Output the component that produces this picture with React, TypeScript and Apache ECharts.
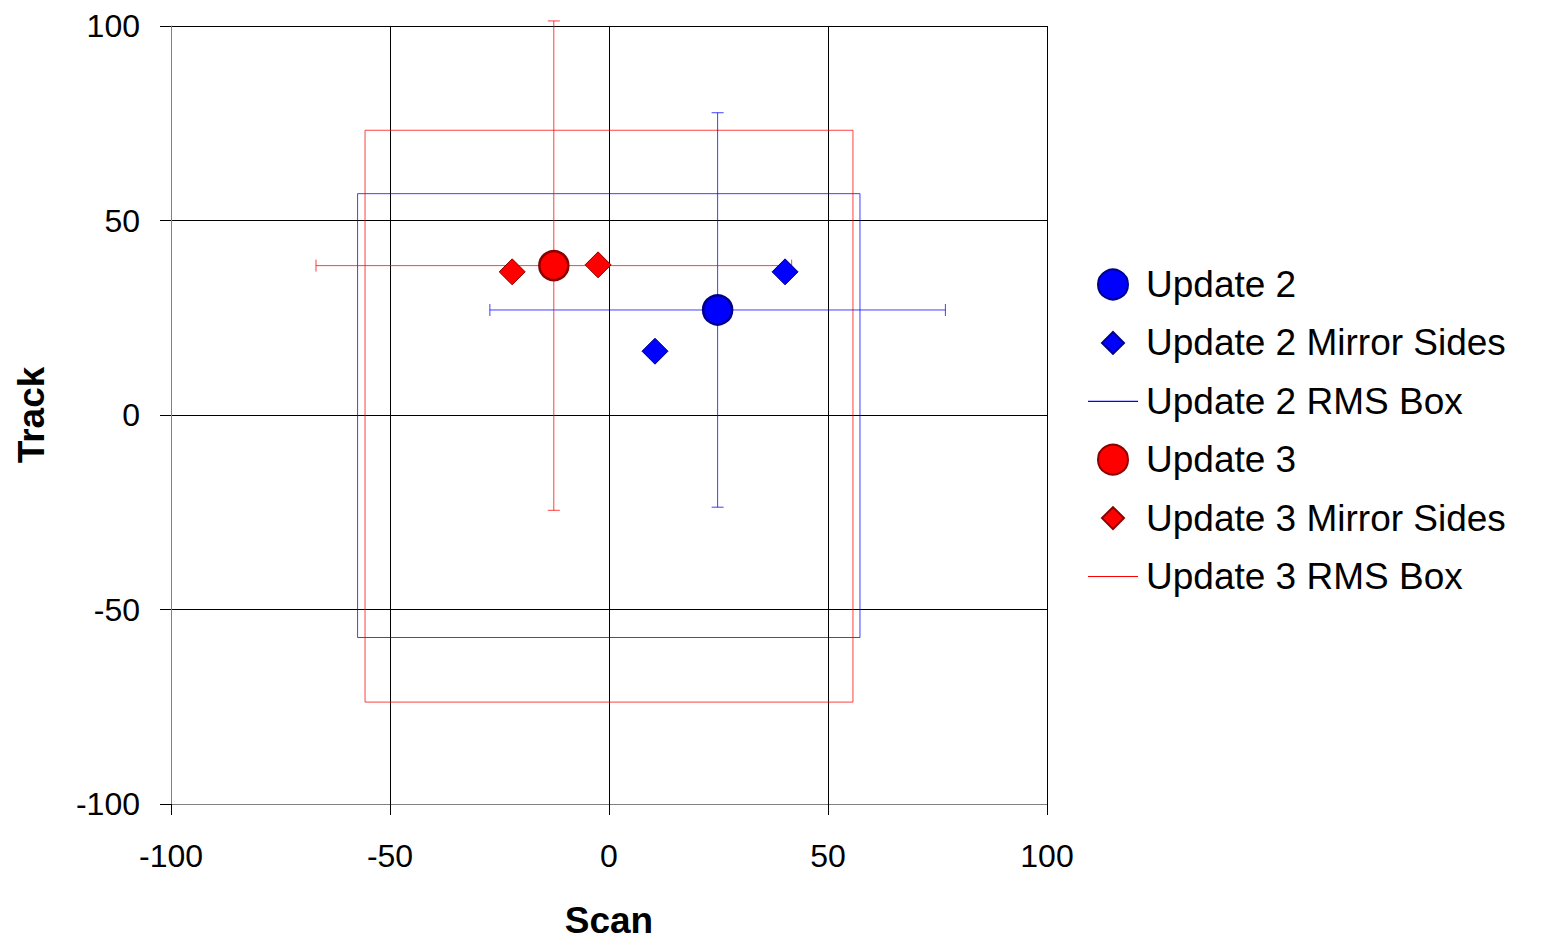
import React, { useEffect, useRef } from "react";
import * as echarts from "echarts";

// ---- Data ----
const axisTicks = [-100, -50, 0, 50, 100];
const update2Center = [[24.8, 27.0]];
const update2Err = [52.0, 50.7]; // [± scan, ± track]
const update2Mirror = [[10.5, 16.4], [40.2, 36.8]];
const update2Box = [-57.4, 57.3, -57.2, 56.9]; // xMin, xMax, yMin, yMax
const update3Center = [[-12.6, 38.4]];
const update3Err = [54.3, 62.9];
const update3Mirror = [[-22.1, 36.8], [-2.5, 38.6]];
const update3Box = [-55.7, 55.7, -73.8, 73.2];

const seriesNames = [
  "Update 2",
  "Update 2 Mirror Sides",
  "Update 2 RMS Box",
  "Update 3",
  "Update 3 Mirror Sides",
  "Update 3 RMS Box",
];

const FONT = "'Liberation Sans', Arial, sans-serif";
const BLUE = "#0000ff";
const RED = "#ff0000";

function boxPoints(b: number[]) {
  const [x0, x1, y0, y1] = b;
  return [
    [x0, y0],
    [x1, y0],
    [x1, y1],
    [x0, y1],
    [x0, y0],
  ];
}

function errorSeries(center: number[][], err: number[], color: string) {
  return {
    type: "custom",
    silent: true,
    z: 2,
    data: center.map((c) => [c[0], c[1], err[0], err[1]]),
    renderItem: (params: any, api: any) => {
      const x = api.value(0);
      const y = api.value(1);
      const ex = api.value(2);
      const ey = api.value(3);
      const l = api.coord([x - ex, y]);
      const r = api.coord([x + ex, y]);
      const t = api.coord([x, y + ey]);
      const b = api.coord([x, y - ey]);
      const style = { stroke: color, lineWidth: 1, opacity: 0.75 };
      const cap = 6;
      return {
        type: "group",
        children: [
          { type: "line", shape: { x1: l[0], y1: l[1], x2: r[0], y2: r[1] }, style },
          { type: "line", shape: { x1: t[0], y1: t[1], x2: b[0], y2: b[1] }, style },
          { type: "line", shape: { x1: l[0], y1: l[1] - cap, x2: l[0], y2: l[1] + cap }, style },
          { type: "line", shape: { x1: r[0], y1: r[1] - cap, x2: r[0], y2: r[1] + cap }, style },
          { type: "line", shape: { x1: t[0] - cap, y1: t[1], x2: t[0] + cap, y2: t[1] }, style },
          { type: "line", shape: { x1: b[0] - cap, y1: b[1], x2: b[0] + cap, y2: b[1] }, style },
        ],
      };
    },
  };
}

const diamondIcon = "path://M-15,-15M15,15M0,-11L11,0L0,11L-11,0Z";
const lineIcon = "path://M-25,-15M25,15M-25,-0.6L25,-0.6L25,0.6L-25,0.6Z";

export default function App() {
  const ref = useRef<HTMLDivElement>(null);

  useEffect(() => {
    if (!ref.current) return;
    const chart = echarts.init(ref.current, null, { renderer: "svg" });
    const axisCommon = {
      type: "value",
      min: -100,
      max: 100,
      interval: 50,
      axisLine: { show: true, onZero: false, lineStyle: { color: "#808080", width: 1 } },
      axisTick: { show: true, inside: false, length: 11, lineStyle: { color: "#000000" } },
      splitLine: { show: true, lineStyle: { color: "#000000", width: 1 } },
      nameLocation: "middle",
      nameTextStyle: { fontFamily: FONT, fontSize: 37, fontWeight: "bold", color: "#000" },
    };
    chart.setOption({
      animation: false,
      backgroundColor: "#ffffff",
      grid: { left: 171, top: 26, width: 876, height: 785, containLabel: false },
      xAxis: {
        ...axisCommon,
        name: "Scan",
        nameGap: 98,
        axisLabel: {
          fontFamily: FONT,
          fontSize: 32,
          color: "#000",
          margin: 36,
          formatter: (v: number) => (axisTicks.includes(v) ? String(v) : ""),
        },
      },
      yAxis: {
        ...axisCommon,
        name: "Track",
        nameGap: 121,
        nameRotate: 90,
        axisLabel: {
          fontFamily: FONT,
          fontSize: 32,
          color: "#000",
          margin: 31,
          formatter: (v: number) => (axisTicks.includes(v) ? String(v) : ""),
        },
      },
      legend: {
        orient: "vertical",
        left: 1083,
        top: 261,
        itemWidth: 50,
        itemHeight: 30,
        itemGap: 21.4,
        symbolKeepAspect: true,
        textStyle: {
          fontFamily: FONT,
          fontSize: 37,
          lineHeight: 36,
          color: "#000",
          padding: [0, 0, 0, 3],
        },
        data: [
          { name: seriesNames[0], icon: "circle" },
          { name: seriesNames[1], icon: diamondIcon },
          { name: seriesNames[2], icon: lineIcon, itemStyle: { color: BLUE, borderWidth: 0 } },
          { name: seriesNames[3], icon: "circle" },
          { name: seriesNames[4], icon: diamondIcon },
          { name: seriesNames[5], icon: lineIcon, itemStyle: { color: RED, borderWidth: 0 } },
        ],
      },
      series: [
        {
          name: seriesNames[2],
          type: "line",
          data: boxPoints(update2Box),
          symbol: "none",
          z: 1,
          lineStyle: { color: BLUE, width: 1, opacity: 0.75 },
          itemStyle: { color: BLUE },
        },
        {
          name: seriesNames[5],
          type: "line",
          data: boxPoints(update3Box),
          symbol: "none",
          z: 1,
          lineStyle: { color: RED, width: 1, opacity: 0.75 },
          itemStyle: { color: RED },
        },
        errorSeries(update2Center, update2Err, BLUE),
        errorSeries(update3Center, update3Err, RED),
        {
          name: seriesNames[1],
          type: "scatter",
          symbol: "diamond",
          symbolSize: 26,
          z: 3,
          data: update2Mirror,
          itemStyle: { color: BLUE, borderColor: "#00008b", borderWidth: 1, opacity: 1 },
        },
        {
          name: seriesNames[4],
          type: "scatter",
          symbol: "diamond",
          symbolSize: 26,
          z: 3,
          data: update3Mirror,
          itemStyle: { color: RED, borderColor: "#8b0000", borderWidth: 1, opacity: 1 },
        },
        {
          name: seriesNames[0],
          type: "scatter",
          symbol: "circle",
          symbolSize: 29,
          z: 4,
          data: update2Center,
          itemStyle: { color: BLUE, borderColor: "#00008b", borderWidth: 2.5, opacity: 1 },
        },
        {
          name: seriesNames[3],
          type: "scatter",
          symbol: "circle",
          symbolSize: 29,
          z: 4,
          data: update3Center,
          itemStyle: { color: RED, borderColor: "#8b0000", borderWidth: 2.5, opacity: 1 },
        },
      ],
    });
    return () => chart.dispose();
  }, []);

  return (
    <div
      ref={ref}
      style={{ position: "fixed", left: 0, top: 0, width: 1552, height: 944, background: "#fff" }}
    />
  );
}
